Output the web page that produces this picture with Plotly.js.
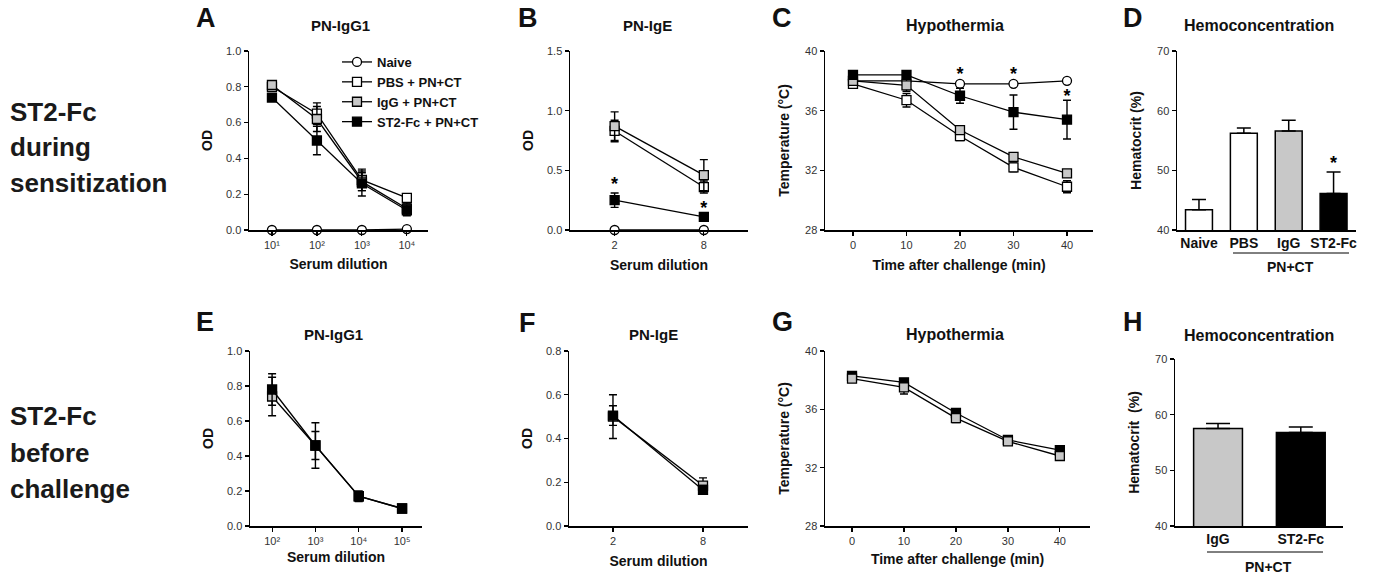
<!DOCTYPE html>
<html><head><meta charset="utf-8">
<script src="https://cdn.plot.ly/plotly-3.0.1.min.js"></script>
<style>html,body{margin:0;padding:0;background:#fff}#chart{width:1373px;height:576px}</style>
</head><body><div id="chart"></div>
<script>
// ---------- DATA ----------
// Panel A: PN-IgG1 (during sensitization)
const A_x = [10, 100, 1000, 10000];
const A_naive = [0, 0, 0, 0.005];
const A_pbs = [0.80, 0.65, 0.28, 0.18];
const A_pbs_err = [0.02, 0.06, 0.06, 0.02];
const A_igg = [0.81, 0.62, 0.27, 0.12];
const A_igg_err = [0.02, 0.07, 0.05, 0.03];
const A_st2 = [0.74, 0.50, 0.26, 0.11];
const A_st2_err = [0.02, 0.08, 0.07, 0.03];
const A_ticktext = ['10\u00B9', '10\u00B2', '10\u00B3', '10\u2074'];

// Panel B: PN-IgE
const B_x = [2, 8];
const B_naive = [0, 0];
const B_pbs = [0.83, 0.36];
const B_pbs_err = [0.09, 0.05];
const B_igg = [0.87, 0.46];
const B_igg_err = [0.12, 0.13];
const B_st2 = [0.25, 0.11];
const B_st2_err = [0.06, 0.01];
const B_star_x = [2, 8];
const B_star_y = [0.37, 0.17];

// Panel C: Hypothermia
const C_x = [0, 10, 20, 30, 40];
const C_naive = [38.0, 38.0, 37.8, 37.8, 38.0];
const C_pbs = [37.8, 36.7, 34.3, 32.2, 30.9];
const C_pbs_err = [0.1, 0.45, 0.3, 0.3, 0.4];
const C_igg = [38.0, 37.7, 34.7, 32.9, 31.8];
const C_igg_err = [0.1, 0.4, 0.2, 0.2, 0.1];
const C_st2 = [38.4, 38.4, 37.0, 35.9, 35.4];
const C_st2_err = [0.1, 0.1, 0.5, 1.15, 1.3];
const C_star_x = [20, 30, 40];
const C_star_y = [38.35, 38.35, 36.9];

// Panel D: Hemoconcentration
const D_cats = ['Naive', 'PBS', 'IgG', 'ST2-Fc'];
const D_vals = [43.4, 56.2, 56.6, 46.1];
const D_err = [1.7, 0.9, 1.8, 3.6];
const D_star_y = [51.0];

// Panel E: PN-IgG1 (before challenge)
const E_x = [100, 1000, 10000, 100000];
const E_igg = [0.74, 0.46, 0.17, 0.10];
const E_igg_err = [0.11, 0.13, 0.03, 0.01];
const E_st2 = [0.78, 0.46, 0.17, 0.10];
const E_st2_err = [0.09, 0.08, 0.02, 0.01];
const E_ticktext = ['10\u00B2', '10\u00B3', '10\u2074', '10\u2075'];

// Panel F: PN-IgE
const F_x = [2, 8];
const F_igg = [0.50, 0.185];
const F_igg_err = [0.10, 0.035];
const F_st2 = [0.505, 0.165];
const F_st2_err = [0.045, 0.02];

// Panel G: Hypothermia
const G_x = [0, 10, 20, 30, 40];
const G_igg = [38.1, 37.5, 35.4, 33.8, 32.8];
const G_igg_err = [0.1, 0.45, 0.3, 0.1, 0.1];
const G_st2 = [38.3, 37.85, 35.75, 33.9, 33.2];
const G_st2_err = [0.1, 0.1, 0.3, 0.1, 0.1];

// Panel H: Hemoconcentration
const H_cats = ['IgG', 'ST2-Fc'];
const H_vals = [57.5, 56.8];
const H_err = [0.9, 1.0];

const names = ['Naive', 'PBS + PN+CT', 'IgG + PN+CT', 'ST2-Fc + PN+CT'];

// ---------- STYLE ----------
const W = 1373, Hh = 576;
const FONT = 'Liberation Sans, Arial, Helvetica, sans-serif';
const GRAY = '#c8c8c8';
const styles = {
  naive: {symbol: 'circle', color: 'white'},
  pbs: {symbol: 'square', color: 'white'},
  igg: {symbol: 'square', color: GRAY},
  st2: {symbol: 'square', color: 'black'}
};
function dx(a, b) { return [a / W, b / W]; }
function dy(top, bot) { return [1 - bot / Hh, 1 - top / Hh]; }

function lt(ax, x, y, err, st, name, showleg) {
  const t = {
    type: 'scatter', mode: 'lines+markers', x: x, y: y, name: name,
    xaxis: 'x' + ax, yaxis: 'y' + ax, showlegend: !!showleg, cliponaxis: false,
    line: {color: 'black', width: 1.3},
    marker: {symbol: styles[st].symbol, size: 9, color: styles[st].color, line: {color: 'black', width: 1.3}},
    hoverinfo: 'skip'
  };
  if (err) t.error_y = {type: 'data', array: err, visible: true, color: 'black', thickness: 1.4, width: 4};
  return t;
}
function stars(ax, x, y) {
  return {type: 'scatter', mode: 'text', x: x, y: y, text: x.map(() => '*'),
    textfont: {family: FONT, size: 18, color: 'black', weight: 'bold'},
    xaxis: 'x' + ax, yaxis: 'y' + ax, showlegend: false, cliponaxis: false, hoverinfo: 'skip'};
}

const data = [
  lt('', A_x, A_naive, null, 'naive', names[0], true),
  lt('', A_x, A_pbs, A_pbs_err, 'pbs', names[1], true),
  lt('', A_x, A_igg, A_igg_err, 'igg', names[2], true),
  lt('', A_x, A_st2, A_st2_err, 'st2', names[3], true),

  lt('2', B_x, B_naive, null, 'naive', names[0]),
  lt('2', B_x, B_pbs, B_pbs_err, 'pbs', names[1]),
  lt('2', B_x, B_igg, B_igg_err, 'igg', names[2]),
  lt('2', B_x, B_st2, B_st2_err, 'st2', names[3]),
  stars('2', B_star_x, B_star_y),

  lt('3', C_x, C_naive, null, 'naive', names[0]),
  lt('3', C_x, C_pbs, C_pbs_err, 'pbs', names[1]),
  lt('3', C_x, C_igg, C_igg_err, 'igg', names[2]),
  lt('3', C_x, C_st2, C_st2_err, 'st2', names[3]),
  stars('3', C_star_x, C_star_y),

  {type: 'bar', x: D_cats, y: D_vals, xaxis: 'x4', yaxis: 'y4', showlegend: false, width: 0.6,
   marker: {color: ['white', 'white', GRAY, 'black'], line: {color: 'black', width: 1.5}},
   error_y: {type: 'data', array: D_err, arrayminus: D_cats.map(() => 0), symmetric: false, color: 'black', thickness: 1.5, width: 7},
   hoverinfo: 'skip'},
  stars('4', [D_cats[3]], D_star_y),

  lt('5', E_x, E_igg, E_igg_err, 'igg', names[2]),
  lt('5', E_x, E_st2, E_st2_err, 'st2', names[3]),

  lt('6', F_x, F_igg, F_igg_err, 'igg', names[2]),
  lt('6', F_x, F_st2, F_st2_err, 'st2', names[3]),

  lt('7', G_x, G_st2, G_st2_err, 'st2', names[3]),
  lt('7', G_x, G_igg, G_igg_err, 'igg', names[2]),

  {type: 'bar', x: H_cats, y: H_vals, xaxis: 'x8', yaxis: 'y8', showlegend: false, width: 0.59,
   marker: {color: [GRAY, 'black'], line: {color: 'black', width: 1.5}},
   error_y: {type: 'data', array: H_err, arrayminus: H_cats.map(() => 0), symmetric: false, color: 'black', thickness: 1.5, width: 12},
   hoverinfo: 'skip'}
];

const tickf = {family: FONT, size: 11, color: '#333'};
const titf = {family: FONT, size: 14, color: '#111', weight: 'bold'};
function axBase(extra) {
  return Object.assign({
    showline: true, linecolor: 'black', linewidth: 1.5, ticks: 'outside', ticklen: 4,
    tickcolor: 'black', tickwidth: 1.2, showgrid: false, zeroline: false, tickfont: tickf,
    fixedrange: true
  }, extra);
}
function yTitle(t, s) { return {text: t, font: titf, standoff: s}; }

const layout = {
  width: W, height: Hh, margin: {l: 0, r: 0, t: 0, b: 0},
  paper_bgcolor: 'white', plot_bgcolor: 'white',
  font: {family: FONT, color: '#111'},
  legend: {x: 337 / W, y: 1 - 47 / Hh, xanchor: 'left', yanchor: 'top', bgcolor: 'rgba(0,0,0,0)',
           font: {family: FONT, size: 13, color: '#111', weight: 'bold'}, tracegroupgap: 0, itemwidth: 30},
  // A
  xaxis: axBase({domain: dx(249, 428), anchor: 'y', type: 'log', range: [0.49, 4.47], tickvals: A_x, ticktext: A_ticktext,
    title: {text: 'Serum dilution', font: titf, standoff: 9}}),
  yaxis: axBase({domain: dy(51, 230), anchor: 'x', range: [0, 1.0], tickvals: [0, 0.2, 0.4, 0.6, 0.8, 1.0], tickformat: '.1f',
    title: yTitle('OD', 10)}),
  // B
  xaxis2: axBase({domain: dx(570, 748), anchor: 'y2', type: 'log', range: [0, 1.201], tickvals: B_x, ticktext: ['2', '8'],
    title: {text: 'Serum dilution', font: titf, standoff: 10}}),
  yaxis2: axBase({domain: dy(51, 230), anchor: 'x2', range: [0, 1.5], tickvals: [0, 0.5, 1.0, 1.5], tickformat: '.1f',
    title: yTitle('OD', 10)}),
  // C
  xaxis3: axBase({domain: dx(825, 1093), anchor: 'y3', range: [-5.23, 44.86], tickvals: C_x,
    title: {text: 'Time after challenge (min)', font: titf, standoff: 10}}),
  yaxis3: axBase({domain: dy(51, 230), anchor: 'x3', range: [28, 40], tickvals: [28, 32, 36, 40],
    title: yTitle('Temperature (°C)', 12)}),
  // D
  xaxis4: axBase({domain: dx(1177, 1356), anchor: 'y4', type: 'category', range: [-0.49, 3.5], ticks: '',
    tickfont: {family: FONT, size: 14, color: '#111', weight: 'bold'}}),
  yaxis4: axBase({domain: dy(51, 230), anchor: 'x4', range: [40, 70], tickvals: [40, 50, 60, 70],
    title: yTitle('Hematocrit (%)', 12)}),
  // E
  xaxis5: axBase({domain: dx(250, 422), anchor: 'y5', type: 'log', range: [1.49, 5.46], tickvals: E_x, ticktext: E_ticktext,
    title: {text: 'Serum dilution', font: titf, standoff: 6}}),
  yaxis5: axBase({domain: dy(351, 526), anchor: 'x5', range: [0, 1.0], tickvals: [0, 0.2, 0.4, 0.6, 0.8, 1.0], tickformat: '.1f',
    title: yTitle('OD', 10)}),
  // F
  xaxis6: axBase({domain: dx(569, 748), anchor: 'y6', type: 'log', range: [0.007, 1.204], tickvals: F_x, ticktext: ['2', '8'],
    title: {text: 'Serum dilution', font: titf, standoff: 10}}),
  yaxis6: axBase({domain: dy(351, 526), anchor: 'x6', range: [0, 0.8], tickvals: [0, 0.2, 0.4, 0.6, 0.8], tickformat: '.1f',
    title: yTitle('OD', 10)}),
  // G
  xaxis7: axBase({domain: dx(825, 1090), anchor: 'y7', range: [-5.2, 45.8], tickvals: G_x,
    title: {text: 'Time after challenge (min)', font: titf, standoff: 8}}),
  yaxis7: axBase({domain: dy(351, 526), anchor: 'x7', range: [28, 40], tickvals: [28, 32, 36, 40],
    title: yTitle('Temperature (°C)', 12)}),
  // H
  xaxis8: axBase({domain: dx(1175, 1343), anchor: 'y8', type: 'category', range: [-0.52, 1.51], ticks: '',
    tickfont: {family: FONT, size: 14, color: '#111', weight: 'bold'}}),
  yaxis8: axBase({domain: dy(359, 526), anchor: 'x8', range: [40, 70], tickvals: [40, 50, 60, 70],
    title: yTitle('Hematocrit  (%)', 12)}),
  shapes: [
    {type: 'line', xref: 'paper', yref: 'paper', x0: 1233 / W, x1: 1349 / W, y0: 1 - 253 / Hh, y1: 1 - 253 / Hh, line: {color: 'black', width: 1}},
    {type: 'line', xref: 'paper', yref: 'paper', x0: 1207 / W, x1: 1323 / W, y0: 1 - 552 / Hh, y1: 1 - 552 / Hh, line: {color: 'black', width: 1}}
  ],
  annotations: []
};

function ann(text, x, y, size, extra) {
  layout.annotations.push(Object.assign({
    text: text, xref: 'paper', yref: 'paper', x: x / W, y: 1 - y / Hh, xanchor: 'center', yanchor: 'middle',
    showarrow: false, font: {family: FONT, size: size, color: '#111', weight: 'bold'}
  }, extra || {}));
}
// panel letters
ann('A', 206, 18, 27); ann('B', 528, 18, 27); ann('C', 782, 18, 27); ann('D', 1133, 18, 27);
ann('E', 205, 322, 27); ann('F', 527, 323, 27); ann('G', 782, 322, 27); ann('H', 1133, 322, 27);
// panel titles
ann('PN-IgG1', 340, 25, 15); ann('PN-IgE', 647, 25, 15); ann('Hypothermia', 955, 25, 16); ann('Hemoconcentration', 1259, 25, 16);
ann('PN-IgG1', 333, 334, 15); ann('PN-IgE', 653, 334, 15); ann('Hypothermia', 955, 334, 16); ann('Hemoconcentration', 1259, 335, 16);
// group labels
ann('PN+CT', 1290, 267, 14); ann('PN+CT', 1268, 567, 14);
// row labels
const rowTop = ['ST2-Fc', 'during', 'sensitization'];
const rowBot = ['ST2-Fc', 'before', 'challenge'];
rowTop.forEach((t, i) => ann(t, 8, 112 + i * 35.5, 26, {xanchor: 'left', font: {family: FONT, size: 26, color: '#1a1a1a', weight: 'bold'}}));
rowBot.forEach((t, i) => ann(t, 8, 416 + i * 36.5, 26, {xanchor: 'left', font: {family: FONT, size: 26, color: '#1a1a1a', weight: 'bold'}}));

Plotly.newPlot('chart', data, layout, {displayModeBar: false, staticPlot: true});
</script></body></html>
